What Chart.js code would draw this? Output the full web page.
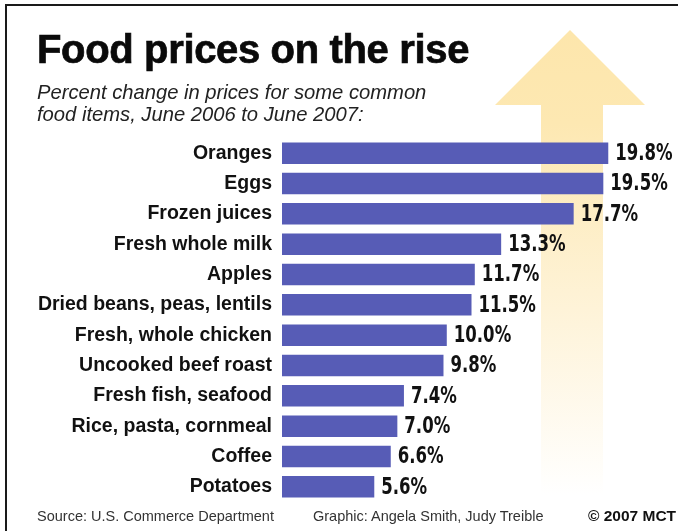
<!DOCTYPE html>
<html>
<head>
<meta charset="utf-8">
<script src="https://cdn.jsdelivr.net/npm/chart.js@4.4.1/dist/chart.umd.min.js"></script>
<style>
  body { margin: 0; background: #fff; }
  #wrap { position: relative; width: 678px; height: 531px; overflow: hidden; background: #fff; }
  #chart { position: absolute; left: 0; top: 0; }
  .txt { position: absolute; white-space: nowrap; font-family: "Liberation Sans", Arial, sans-serif; }
  #title { left: 37px; top: 29px; font-size: 40px; line-height: 40px; font-weight: bold; color: #0a0a0a; letter-spacing: -0.35px; -webkit-text-stroke: 0.7px #0a0a0a; }
  #sub { left: 37px; top: 82px; font-size: 20.2px; line-height: 21.5px; font-style: italic; color: #222; }
  .foot { top: 509px; font-size: 14.5px; line-height: 14.5px; color: #333; }
  #lineTop { position: absolute; left: 5px; top: 4px; width: 680px; height: 2px; background: #1a1a1a; }
  #lineLeft { position: absolute; left: 5px; top: 4px; width: 2px; height: 540px; background: #1a1a1a; }
</style>
</head>
<body>
<div id="wrap">
  <canvas id="chart" width="678" height="531"></canvas>
  <div id="lineTop"></div>
  <div id="lineLeft"></div>
  <div class="txt" id="title">Food prices on the rise</div>
  <div class="txt" id="sub">Percent change in prices for some common<br>food items, June 2006 to June 2007:</div>
  <div class="txt foot" style="left:37px">Source: U.S. Commerce Department</div>
  <div class="txt foot" style="left:313px">Graphic: Angela Smith, Judy Treible</div>
  <div class="txt foot" style="left:588px;font-weight:bold;font-size:15.5px;color:#111">© 2007 MCT</div>
</div>
<script>
const items = ["Oranges", "Eggs", "Frozen juices", "Fresh whole milk", "Apples",
  "Dried beans, peas, lentils", "Fresh, whole chicken", "Uncooked beef roast",
  "Fresh fish, seafood", "Rice, pasta, cornmeal", "Coffee", "Potatoes"];
const changes = [19.8, 19.5, 17.7, 13.3, 11.7, 11.5, 10.0, 9.8, 7.4, 7.0, 6.6, 5.6];

const ctxEl = document.getElementById("chart");

// big pale arrow behind the bars
const arrowBg = {
  id: "arrowBg",
  beforeDatasetsDraw(chart) {
    const c = chart.ctx;
    c.save();
    const g = c.createLinearGradient(0, 30, 0, 495);
    g.addColorStop(0, "#fde6ac");
    g.addColorStop(0.2, "#fde8b2");
    g.addColorStop(0.6, "#fef3d8");
    g.addColorStop(1, "rgba(255,255,255,1)");
    c.fillStyle = g;
    c.beginPath();
    c.moveTo(570, 30);
    c.lineTo(645, 105);
    c.lineTo(603, 105);
    c.lineTo(603, 495);
    c.lineTo(541, 495);
    c.lineTo(541, 105);
    c.lineTo(495, 105);
    c.closePath();
    c.fill();
    c.restore();
  }
};

// percent labels at bar ends
const valueLabels = {
  id: "valueLabels",
  afterDatasetsDraw(chart) {
    const c = chart.ctx;
    const meta = chart.getDatasetMeta(0);
    c.save();
    c.fillStyle = "#111";
    c.font = "bold 23px 'Liberation Sans Narrow', 'DejaVu Sans Condensed', sans-serif";
    c.textBaseline = "middle";
    meta.data.forEach((bar, i) => {
      c.save();
      c.translate(bar.x + 7, bar.y + 1);
      c.scale(0.8, 1);
      c.fillText(changes[i].toFixed(1) + "%", 0, 0);
      c.restore();
    });
    c.restore();
  }
};

new Chart(ctxEl, {
  type: "bar",
  data: {
    labels: items,
    datasets: [{
      data: changes,
      backgroundColor: "#575cb6",
      borderWidth: 0,
      barPercentage: 0.71,
      categoryPercentage: 1
    }]
  },
  options: {
    indexAxis: "y",
    responsive: false,
    animation: false,
    layout: { padding: { top: 138, bottom: 29, left: 0, right: 17 } },
    plugins: { legend: { display: false }, tooltip: { enabled: false } },
    scales: {
      x: { display: false, min: 0, max: 23 },
      y: {
        afterFit(scale) { scale.width = 282; },
        grid: { display: false, drawTicks: false },
        border: { display: false },
        ticks: {
          padding: 10,
          color: "#111",
          font: { family: "'Liberation Sans', Arial, sans-serif", size: 19.5, weight: "bold" }
        }
      }
    }
  },
  plugins: [arrowBg, valueLabels]
});
</script>
</body>
</html>
